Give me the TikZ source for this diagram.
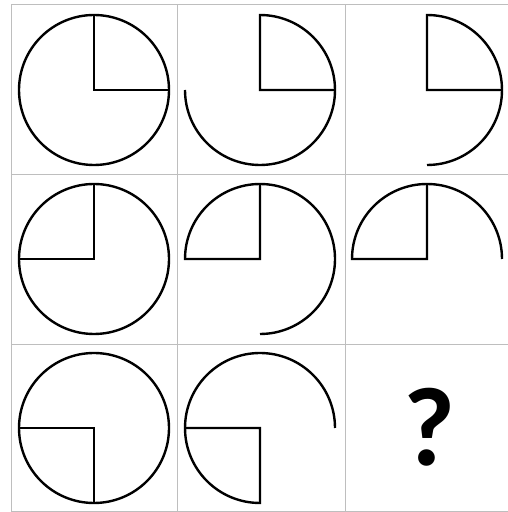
\documentclass[tikz,border=0pt]{standalone}
\usepackage{fontspec}
\usetikzlibrary{calc}
\newfontfamily\qfont{Carlito}
\begin{document}
\begin{tikzpicture}[x=1pt,y=1pt,
  gridline/.style={draw={rgb,255:red,190;green,190;blue,190},line width=0.9pt},
  figline/.style={draw=black,line width=2.4pt,line join=miter},
  ]
\useasboundingbox (0,0) rectangle (508,512);
% grid
\foreach \x in {11,177,345} \draw[gridline] (\x,1) -- (\x,508);
\foreach \y in {508,338,168,1} \draw[gridline] (11,\y) -- (508,\y);
\def\r{75}
% centres
\coordinate (c1) at (94,422);
\coordinate (c2) at (260,422);
\coordinate (c3) at (427,422);
\coordinate (c4) at (94,253);
\coordinate (c5) at (260,253);
\coordinate (c6) at (427,253);
\coordinate (c7) at (94,84);
\coordinate (c8) at (260,84);
% cell 1
\draw[figline] (c1) circle[radius=\r];
\draw[figline] ($(c1)+(0:\r)$) -- (c1) -- ($(c1)+(90:\r)$);
% cell 2
\draw[figline] ($(c2)+(0:\r)$) -- (c2) -- ($(c2)+(90:\r)$) arc[start angle=90,end angle=-180,radius=\r];
% cell 3
\draw[figline] ($(c3)+(0:\r)$) -- (c3) -- ($(c3)+(90:\r)$) arc[start angle=90,end angle=-90,radius=\r];
% cell 4
\draw[figline] (c4) circle[radius=\r];
\draw[figline] ($(c4)+(180:\r)$) -- (c4) -- ($(c4)+(90:\r)$);
% cell 5
\draw[figline] ($(c5)+(90:\r)$) -- (c5) -- ($(c5)+(180:\r)$) arc[start angle=180,end angle=-90,radius=\r];
% cell 6
\draw[figline] ($(c6)+(90:\r)$) -- (c6) -- ($(c6)+(180:\r)$) arc[start angle=180,end angle=0,radius=\r];
% cell 7
\draw[figline] (c7) circle[radius=\r];
\draw[figline] ($(c7)+(180:\r)$) -- (c7) -- ($(c7)+(270:\r)$);
% cell 8
\draw[figline] ($(c8)+(180:\r)$) -- (c8) -- ($(c8)+(270:\r)$) arc[start angle=270,end angle=0,radius=\r];
% cell 9
\node[inner sep=0pt,font=\qfont\bfseries\fontsize{112}{112}\selectfont] (q) at (429,85) {?};
\end{tikzpicture}
\end{document}
